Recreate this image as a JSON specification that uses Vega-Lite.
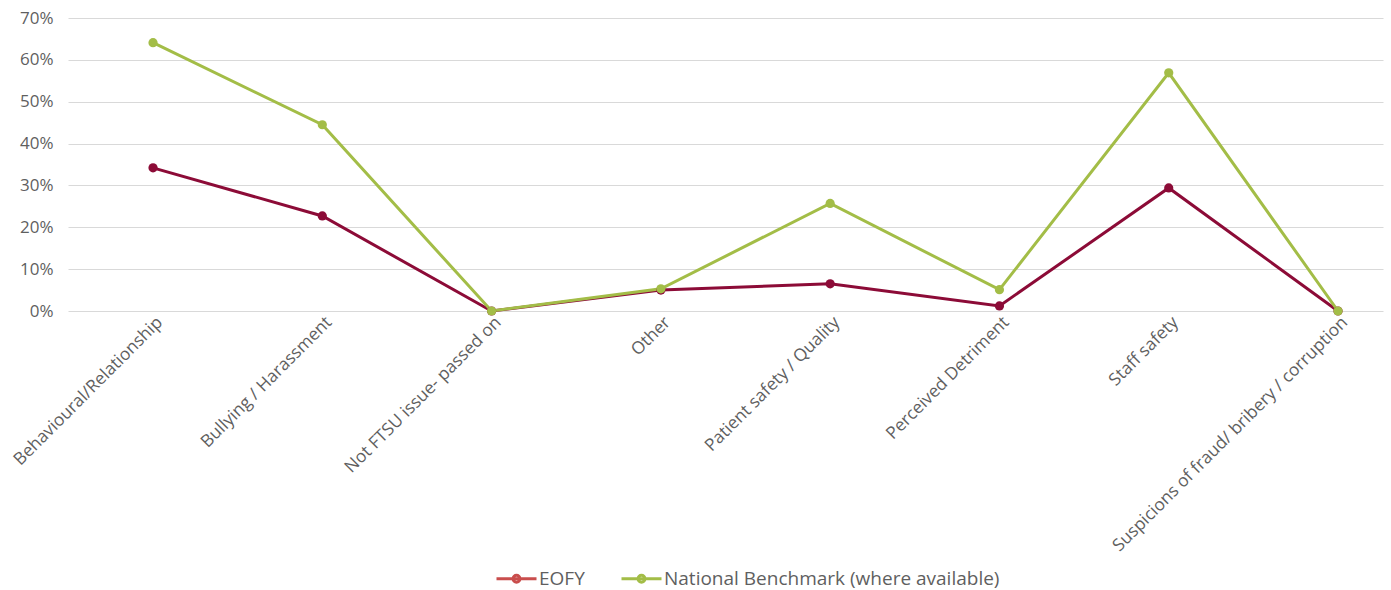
{
  "$schema": "https://vega.github.io/schema/vega-lite/v6.json",
  "width": 1315,
  "height": 293,
  "autosize": "none",
  "padding": {"left": 68, "top": 18, "right": 8, "bottom": 279},
  "background": "white",
  "config": {"view": {"stroke": null}, "font": "Open Sans"},
  "data": {"values": [
    {"category": "Behavioural/Relationship", "series": "EOFY", "value": 0.342},
    {"category": "Bullying / Harassment", "series": "EOFY", "value": 0.227},
    {"category": "Not FTSU issue- passed on", "series": "EOFY", "value": 0.0},
    {"category": "Other", "series": "EOFY", "value": 0.05},
    {"category": "Patient safety / Quality", "series": "EOFY", "value": 0.065},
    {"category": "Perceived Detriment", "series": "EOFY", "value": 0.012},
    {"category": "Staff safety", "series": "EOFY", "value": 0.294},
    {"category": "Suspicions of fraud/ bribery / corruption", "series": "EOFY", "value": 0.0},
    {"category": "Behavioural/Relationship", "series": "National Benchmark (where available)", "value": 0.641},
    {"category": "Bullying / Harassment", "series": "National Benchmark (where available)", "value": 0.445},
    {"category": "Not FTSU issue- passed on", "series": "National Benchmark (where available)", "value": 0.0},
    {"category": "Other", "series": "National Benchmark (where available)", "value": 0.053},
    {"category": "Patient safety / Quality", "series": "National Benchmark (where available)", "value": 0.257},
    {"category": "Perceived Detriment", "series": "National Benchmark (where available)", "value": 0.051},
    {"category": "Staff safety", "series": "National Benchmark (where available)", "value": 0.569},
    {"category": "Suspicions of fraud/ bribery / corruption", "series": "National Benchmark (where available)", "value": 0.0}
  ]},
  "encoding": {
    "x": {
      "field": "category", "type": "nominal", "sort": null,
      "scale": {"type": "point", "padding": 0.384, "align": 0.654},
      "axis": {
        "title": null, "domain": false, "ticks": false, "grid": false,
        "labelAngle": -45, "labelAlign": "right", "labelBaseline": "top",
        "labelColor": "#5f5f5f", "labelFontSize": 17.3, "labelFont": "Open Sans",
        "labelPadding": 2, "labelLimit": 450, "labelOverlap": false
      }
    },
    "y": {
      "field": "value", "type": "quantitative",
      "scale": {"domain": [0, 0.7], "nice": false},
      "axis": {
        "title": null, "format": ".0%", "values": [0, 0.1, 0.2, 0.3, 0.4, 0.5, 0.6, 0.7],
        "domain": false, "ticks": false, "gridColor": "#d9d9d9", "gridWidth": 1,
        "labelColor": "#5f5f5f", "labelFontSize": 17, "labelFont": "Open Sans",
        "labelPadding": 15
      }
    }
  },
  "resolve": {"scale": {"color": "independent"}, "legend": {"color": "independent"}},
  "layer": [
    {
      "mark": {"type": "line", "strokeWidth": 3},
      "encoding": {"color": {"field": "series", "type": "nominal",
        "scale": {"domain": ["EOFY", "National Benchmark (where available)"], "range": ["#8C0B37", "#A3BD47"]},
        "legend": null}}
    },
    {
      "mark": {"type": "circle", "size": 85, "opacity": 1},
      "encoding": {"color": {"field": "series", "type": "nominal",
        "scale": {"domain": ["EOFY", "National Benchmark (where available)"], "range": ["#8C0B37", "#A3BD47"]},
        "legend": null}}
    },
    {
      "transform": [{"filter": "datum.value < 0"}],
      "mark": {"type": "line", "strokeWidth": 3},
      "encoding": {"color": {"field": "series", "type": "nominal",
        "scale": {"domain": ["EOFY", "National Benchmark (where available)"], "range": ["#C94E4D", "#A3BD47"]},
        "legend": {
          "title": null, "orient": "none", "direction": "horizontal",
          "legendX": 427, "legendY": 539,
          "labelFontSize": 19, "labelColor": "#5f5f5f", "labelFont": "Open Sans",
          "labelLimit": 500,
          "symbolType": "M-1,0H1M-0.17,0A0.17,0.17 0 1,0 0.17,0A0.17,0.17 0 1,0 -0.17,0Z",
          "symbolSize": 1600, "symbolStrokeWidth": 3, "labelOffset": 1, "columnPadding": 30
        }}}
    }
  ]
}
